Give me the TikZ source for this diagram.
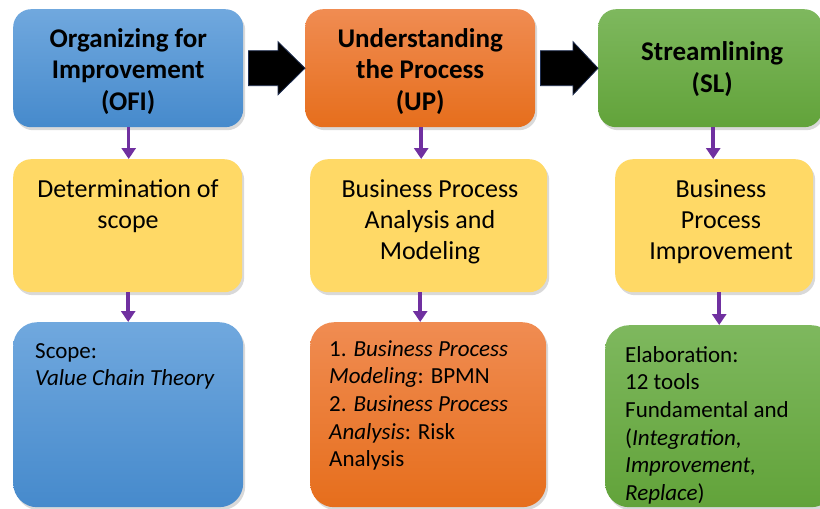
\documentclass[tikz,border=0pt]{standalone}
\usepackage{fontspec}
\setmainfont{Carlito}
\usetikzlibrary{shadows,arrows.meta,calc}
\definecolor{bluetop}{RGB}{112,168,222}
\definecolor{bluebot}{RGB}{70,138,204}
\definecolor{orangetop}{RGB}{240,140,82}
\definecolor{orangebot}{RGB}{230,110,28}
\definecolor{greentop}{RGB}{126,184,94}
\definecolor{greenbot}{RGB}{98,163,58}
\definecolor{yellowbox}{RGB}{255,217,102}
\definecolor{purplearrow}{RGB}{112,48,160}
\definecolor{arrowedge}{RGB}{30,45,80}
\begin{document}
\begin{tikzpicture}[x=1pt,y=-1pt,
  box/.style={anchor=north west,inner sep=0pt,rounded corners=18pt,
    drop shadow={opacity=0.3,shadow xshift=2pt,shadow yshift=-3pt}},
  bluebox/.style={box,top color=bluetop,bottom color=bluebot},
  orangebox/.style={box,top color=orangetop,bottom color=orangebot},
  greenbox/.style={box,top color=greentop,bottom color=greenbot},
  yelbox/.style={box,fill=yellowbox},
  toptext/.style={align=center,inner sep=0pt,font=\fontsize{27}{31.5}\selectfont\bfseries},
  midtext/.style={align=center,inner sep=0pt,anchor=north,font=\fontsize{26}{31}\selectfont},
  bottext/.style={align=left,inner sep=0pt,anchor=north west,font=\fontsize{23}{27.7}\selectfont},
  purarrow/.style={draw=purplearrow,line width=3.5pt,-{Triangle[width=14pt,length=11pt]}},
  fatarrow/.style={fill=black,draw=arrowedge,line width=0.8pt,line join=miter}]
\useasboundingbox (0,0) rectangle (820,509);
% top row
\node[bluebox,minimum width=230pt,minimum height=118pt] (ofi) at (13,9) {};
\node[orangebox,minimum width=230pt,minimum height=118pt] (up) at (305,9) {};
\node[greenbox,minimum width=224pt,minimum height=118pt] (sl) at (598,9) {};
\node[toptext] (ofit) at ([yshift=-3pt]ofi.center) {Organizing for\\Improvement\\(OFI)};
\node[toptext] (upt) at ([yshift=-3pt]up.center) {Understanding\\the Process\\(UP)};
\node[toptext] (slt) at ([xshift=2pt,yshift=-1pt]sl.center) {Streamlining\\(SL)};
% middle row
\node[yelbox,minimum width=229pt,minimum height=133pt] (ofiy) at (13,159) {};
\node[yelbox,minimum width=237pt,minimum height=133pt] (upy) at (310,159) {};
\node[yelbox,minimum width=198pt,minimum height=133pt] (sly) at (615,159) {};
\node[midtext] (ofiyt) at (128,179.5) {Determination of\\scope};
\node[midtext] (upyt) at (430,179.5) {Business Process\\Analysis and\\Modeling};
\node[midtext] (slyt) at (721,179.5) {Business\\Process\\Improvement};
% bottom row
\node[bluebox,rounded corners=24pt,minimum width=230pt,minimum height=185pt] (ofib) at (13,322) {};
\node[orangebox,rounded corners=24pt,minimum width=236pt,minimum height=185pt] (upb) at (310,322) {};
\node[greenbox,rounded corners=24pt,minimum width=230pt,minimum height=182pt] (slb) at (605,325) {};
\node[bottext] (ofibt) at (35,343) {Scope:\\\textit{Value Chain Theory}};
\node[bottext] (upbt) at (329,340) {1. \textit{Business Process}\\\textit{Modeling}: BPMN\\2. \textit{Business Process}\\\textit{Analysis}: Risk\\Analysis};
\node[bottext] (slbt) at (625,346) {Elaboration:\\12 tools\\Fundamental and\\(\textit{Integration,}\\\textit{Improvement,}\\\textit{Replace})};
% fat arrows
\filldraw[fatarrow] ($(ofi.east)+(5,-17.5)$) -- ($(up.west)+(-27,-17.5)$) -- ($(up.west)+(-27,-26.5)$) -- (up.west) -- ($(up.west)+(-27,26.5)$) -- ($(up.west)+(-27,17.5)$) -- ($(ofi.east)+(5,17.5)$) -- cycle;
\filldraw[fatarrow] ($(up.east)+(5,-17.5)$) -- ($(sl.west)+(-25,-17.5)$) -- ($(sl.west)+(-25,-26.5)$) -- (sl.west) -- ($(sl.west)+(-25,26.5)$) -- ($(sl.west)+(-25,17.5)$) -- ($(up.east)+(5,17.5)$) -- cycle;
% purple arrows
\draw[purarrow] ([xshift=0.5pt]ofi.south) -- ([xshift=0.5pt]ofi.south |- ofiy.north);
\draw[purarrow] ([xshift=1pt]up.south) -- ([xshift=1pt]up.south |- upy.north);
\draw[purarrow] ([xshift=3pt]sl.south) -- ([xshift=3pt]sl.south |- sly.north);
\draw[purarrow] ([xshift=0.5pt]ofiy.south) -- ([xshift=0.5pt]ofiy.south |- ofib.north);
\draw[purarrow] ([xshift=-8.5pt]upy.south) -- ([xshift=-8.5pt]upy.south |- upb.north);
\draw[purarrow] ([xshift=5pt]sly.south) -- ([xshift=5pt]sly.south |- slb.north);
\end{tikzpicture}
\end{document}
